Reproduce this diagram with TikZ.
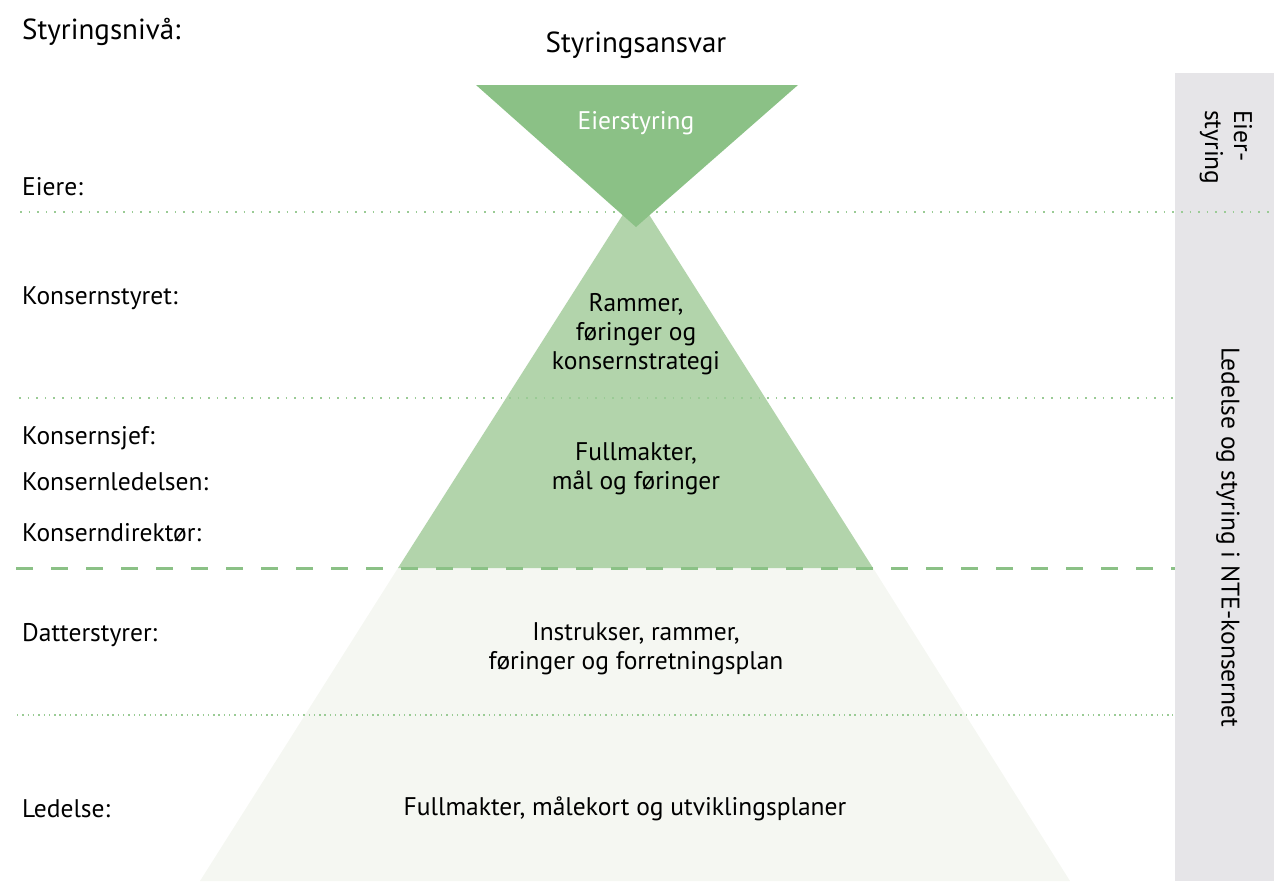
\documentclass[tikz,border=0pt]{standalone}
\usepackage{fontspec}
\setmainfont{PT Sans}
\definecolor{gdark}{HTML}{8BC186}
\definecolor{gmid}{HTML}{B2D4AB}
\definecolor{glight}{HTML}{F5F7F2}
\definecolor{gbar}{HTML}{E6E5E8}
\definecolor{gdot}{HTML}{9ACB95}
\begin{document}
\begin{tikzpicture}[x=1pt,y=-1pt,
  lbl/.style={anchor=west,font=\fontsize{25.5}{29}\selectfont,inner sep=0pt},
  ctr/.style={align=center,font=\fontsize{25.5}{29}\selectfont,inner sep=0pt},
  big/.style={font=\fontsize{29}{33}\selectfont},
  dotline/.style={gdot,line width=1.6pt,dash pattern=on 1.6pt off 7pt},
  dotline2/.style={gdot,line width=1.4pt,dash pattern=on 1.4pt off 3.9pt},
  dashline/.style={gdark,line width=3pt,dash pattern=on 17pt off 18pt}]
\useasboundingbox (0,0) rectangle (1274,881);
% gray bar
\fill[gbar] (1175,73) rectangle (1274,881);
% pyramid
\coordinate (apex) at (636,194);
\fill[glight] (398,568) -- (873,568) -- (1070,881) -- (200,881) -- cycle;
\fill[gmid] (apex) -- (873,568) -- (398,568) -- cycle;
% lines
\draw[dotline] (20,212) -- (1274,212);
\draw[dotline] (19,398) -- (1175,398);
\draw[dotline2] (17,715) -- (1173,715);
\draw[dashline] (16,568) -- (1175,568);
% inverted triangle
\fill[gdark] (476,85) -- (798,85) -- (636,227) -- cycle;
\node[ctr,text=white] (eier) at (636,123) {Eierstyring};
% titles
\node[lbl,big] (niva) at (22,32) {Styringsnivå:};
\node[ctr,big] (ansvar) at (636,45) {Styringsansvar};
% left labels
\node[lbl] (l1) at (22,187) {Eiere:};
\node[lbl] (l2) at (22,298) {Konsernstyret:};
\node[lbl] (l3) at (22,438) {Konsernsjef:};
\node[lbl] (l4) at (22,482) {Konsernledelsen:};
\node[lbl] (l5) at (22,533) {Konserndirektør:};
\node[lbl] (l6) at (22,635) {Datterstyrer:};
\node[lbl] (l7) at (22,809) {Ledelse:};
% center texts
\node[ctr] (c1) at (636,334) {Rammer,\\føringer og\\konsernstrategi};
\node[ctr] (c2) at (636,469) {Fullmakter,\\mål og føringer};
\node[ctr] (c3) at (636,649) {Instrukser, rammer,\\føringer og forretningsplan};
\node[ctr] (c4) at (625,809) {Fullmakter, målekort og utviklingsplaner};
% bar texts
\node[ctr,align=left,rotate=-90,anchor=west] (b1) at (1226,110) {Eier-\\styring};
\node[ctr,rotate=-90] (b2) at (1228,537) {Ledelse og styring i NTE-konsernet};
\end{tikzpicture}
\end{document}
